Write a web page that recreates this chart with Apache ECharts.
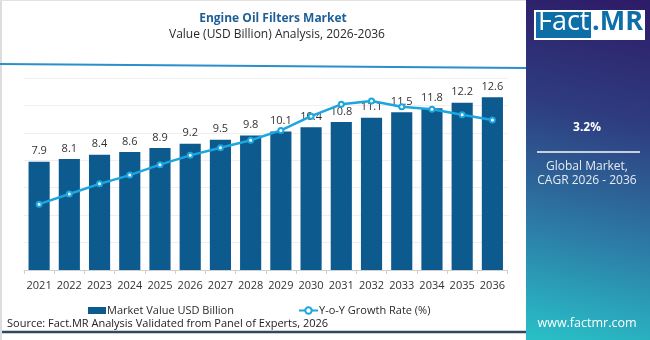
<!DOCTYPE html>
<html><head><meta charset="utf-8">
<script src="https://cdn.jsdelivr.net/npm/echarts@6/dist/echarts.min.js"></script>
<style>html,body{margin:0;padding:0;background:#fff;}#c{width:650px;height:340px;}</style>
</head><body><div id="c"></div>
<script>
var years = ['2021','2022','2023','2024','2025','2026','2027','2028','2029','2030','2031','2032','2033','2034','2035','2036'];
var marketValue = [7.9, 8.1, 8.4, 8.6, 8.9, 9.2, 9.5, 9.8, 10.1, 10.4, 10.8, 11.1, 11.5, 11.8, 12.2, 12.6];
var growthRate = [2.40, 2.77, 3.14, 3.46, 3.84, 4.18, 4.46, 4.73, 5.09, 5.61, 6.04, 6.16, 5.95, 5.86, 5.66, 5.47];
var titleText = 'Engine Oil Filters Market';
var subtitleText = 'Value (USD Billion) Analysis, 2026-2036';
var cagrText = '3.2%';
var cagrLabel = 'Global Market,\nCAGR 2026 - 2036';
var sourceText = 'Source: Fact.MR Analysis Validated from Panel of Experts, 2026';
var siteText = 'www.factmr.com';

var FONT = 'Open Sans';
var chart = echarts.init(document.getElementById('c'), null, {renderer:'canvas'});
chart.setOption({
  animation: false,
  textStyle: {fontFamily: FONT},
  title: [
    {text: titleText, left: 268, top: 8, textAlign: 'center',
     textStyle: {fontFamily: FONT, fontSize: 12, fontWeight: 'bold', color: '#1d5f96'}},
    {text: subtitleText, left: 272, top: 24, textAlign: 'center',
     textStyle: {fontFamily: FONT, fontSize: 12, fontWeight: 'normal', color: '#2a2a2a'}}
  ],
  legend: [
    {data: ['Market Value USD Billion'], left: 88, top: 305, itemWidth: 18, itemHeight: 7, itemGap: 5,
     icon: 'rect', padding: 0, textStyle: {fontFamily: FONT, fontSize: 11, color: '#2a2a2a', padding: [0,0,0,-4]}},
    {data: ['Y-o-Y Growth Rate (%)'], left: 298, top: 305, itemWidth: 19, itemHeight: 8, itemGap: 5,
     padding: 0, textStyle: {fontFamily: FONT, fontSize: 11, color: '#2a2a2a', padding: [0,0,0,-4]}}
  ],
  grid: {left: 24, right: 142.5, top: 78, bottom: 70, containLabel: false},
  xAxis: {
    type: 'category', data: years,
    axisLine: {lineStyle: {color: '#cfcfcf'}},
    axisTick: {show: true, length: 4, lineStyle: {color: '#cfcfcf'}},
    axisLabel: {fontFamily: FONT, fontSize: 11, color: '#333', margin: 10, interval: 0}
  },
  yAxis: [
    {type: 'value', min: 0, max: 14, interval: 2, axisLabel: {show: false},
     axisLine: {show: false}, axisTick: {show: false},
     splitLine: {lineStyle: {color: '#efefef'}}},
    {type: 'value', min: 0, max: 7, interval: 1, show: false, splitLine: {show: false}}
  ],
  series: [
    {name: 'Market Value USD Billion', type: 'bar', data: marketValue, barCategoryGap: '30%',
     itemStyle: {color: '#0d5a8f'},
     label: {show: true, position: 'top', distance: 5, fontFamily: FONT, fontSize: 11, color: '#333'}},
    {name: 'Y-o-Y Growth Rate (%)', type: 'line', yAxisIndex: 1, data: growthRate, z: 5,
     symbol: 'emptyCircle', symbolSize: 5,
     lineStyle: {color: '#1ba6df', width: 2.5},
     itemStyle: {color: '#1ba6df', borderColor: '#1c78b0', borderWidth: 1}}
  ],
  graphic: [
    {type: 'rect', shape: {x: 0, y: 0, width: 2, height: 340}, style: {fill: '#dddddd'}, silent: true},
    {type: 'rect', shape: {x: 0, y: 0, width: 526, height: 1}, style: {fill: '#e2e2e2'}, silent: true},
    {type: 'line', shape: {x1: 0, y1: 64, x2: 526, y2: 68}, style: {stroke: '#2a8fca', lineWidth: 2}, silent: true},
    {type: 'line', shape: {x1: 2, y1: 332, x2: 526, y2: 332}, style: {stroke: '#34465f', lineWidth: 2.5}, silent: true},
    {type: 'text', left: 7, top: 318, style: {text: sourceText, font: '11px "' + FONT + '"', fill: '#222'}},
    {type: 'rect', shape: {x: 526, y: 0, width: 124, height: 340},
     style: {fill: new echarts.graphic.LinearGradient(0.8, 0, 0.2, 1, [
       {offset: 0, color: '#2e1c68'}, {offset: 0.35, color: '#2e3e80'},
       {offset: 0.7, color: '#2c7ea8'}, {offset: 1, color: '#29bec6'}])}, silent: true},
    {type: 'rect', shape: {x: 534, y: 10, width: 111, height: 30}, style: {fill: '#ffffff'}, silent: true},
    {type: 'rect', shape: {x: 536, y: 12, width: 55, height: 26}, style: {fill: '#0e6ea8'}, silent: true},
    {type: 'text', left: 538, top: 9, style: {text: 'Fact', font: '27px "' + FONT + '"', fill: '#ffffff'}},
    {type: 'text', left: 592, top: 9, style: {text: '.MR', font: 'bold 27px "' + FONT + '"', fill: '#0e6ea8'}},
    {type: 'text', x: 587, y: 128, style: {text: cagrText, font: 'bold 12px "' + FONT + '"', fill: '#ffffff', align: 'center', verticalAlign: 'middle'}},
    {type: 'line', shape: {x1: 537, y1: 152, x2: 640, y2: 152}, style: {stroke: '#c8cfdc', lineWidth: 2}, silent: true},
    {type: 'text', x: 587, y: 174, style: {text: cagrLabel, font: '12px "' + FONT + '"', fill: '#e6ebf2', align: 'center', verticalAlign: 'middle', lineHeight: 14}},
    {type: 'text', x: 587, y: 323, style: {text: siteText, font: '12.5px "' + FONT + '"', fill: '#ffffff', align: 'center', verticalAlign: 'middle'}}
  ]
});
</script></body></html>
